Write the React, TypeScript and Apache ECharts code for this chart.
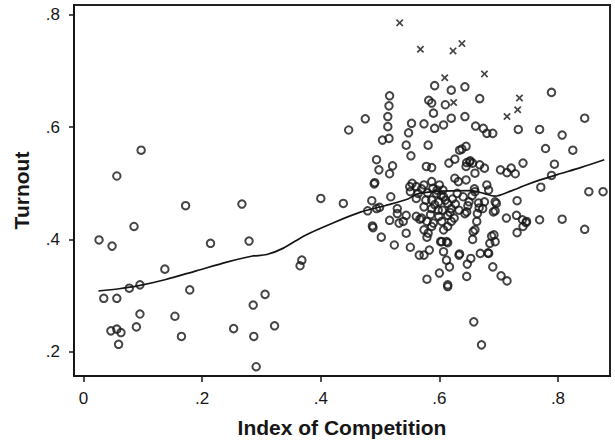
import React, { useEffect, useRef } from "react";
import * as echarts from "echarts";

const xTicks = [0, 0.2, 0.4, 0.6, 0.8];
const yTicks = [0.2, 0.4, 0.6, 0.8];

// Districts: [index of competition, turnout]
const districts: number[][] = [
  [0.026, 0.399], [0.034, 0.295], [0.048, 0.388], [0.056, 0.513], [0.056, 0.295], [0.046, 0.237],
  [0.056, 0.24], [0.063, 0.234], [0.059, 0.213], [0.077, 0.313], [0.085, 0.423], [0.089, 0.244],
  [0.095, 0.319], [0.095, 0.267], [0.097, 0.559], [0.137, 0.347], [0.154, 0.263], [0.165, 0.227],
  [0.172, 0.46], [0.179, 0.31], [0.214, 0.393], [0.253, 0.241], [0.267, 0.463], [0.279, 0.397],
  [0.286, 0.283], [0.287, 0.227], [0.291, 0.173], [0.306, 0.302], [0.322, 0.246], [0.365, 0.353],
  [0.368, 0.363], [0.4, 0.473], [0.438, 0.464], [0.447, 0.595], [0.475, 0.615],
  [0.592, 0.674], [0.62, 0.666], [0.643, 0.672], [0.668, 0.651], [0.516, 0.656],
  [0.582, 0.648], [0.587, 0.643], [0.61, 0.64], [0.515, 0.638],
  [0.59, 0.625], [0.62, 0.616], [0.643, 0.619], [0.513, 0.619],
  [0.553, 0.607], [0.574, 0.606], [0.607, 0.604], [0.513, 0.601], [0.592, 0.598], [0.661, 0.602],
  [0.674, 0.598], [0.68, 0.589], [0.69, 0.589], [0.733, 0.596], [0.769, 0.596], [0.789, 0.662],
  [0.845, 0.616], [0.807, 0.586], [0.548, 0.59],
  [0.504, 0.577], [0.515, 0.58], [0.544, 0.568], [0.581, 0.568], [0.638, 0.561], [0.645, 0.566],
  [0.779, 0.562], [0.825, 0.559], [0.634, 0.559],
  [0.552, 0.549], [0.494, 0.542], [0.626, 0.543], [0.616, 0.536], [0.646, 0.537], [0.651, 0.538],
  [0.656, 0.536], [0.668, 0.533], [0.676, 0.527], [0.578, 0.53], [0.587, 0.528], [0.521, 0.531],
  [0.741, 0.536], [0.794, 0.534],
  [0.498, 0.524], [0.516, 0.517], [0.703, 0.524], [0.721, 0.527], [0.714, 0.519], [0.728, 0.517],
  [0.789, 0.514], [0.626, 0.509], [0.632, 0.503], [0.645, 0.506], [0.66, 0.518],
  [0.491, 0.501], [0.554, 0.5], [0.561, 0.494], [0.574, 0.497], [0.587, 0.503], [0.6, 0.497],
  [0.589, 0.491], [0.68, 0.497], [0.771, 0.493], [0.852, 0.485], [0.876, 0.485],
  [0.551, 0.485], [0.564, 0.482], [0.58, 0.483], [0.595, 0.482], [0.607, 0.476], [0.63, 0.482],
  [0.64, 0.476], [0.66, 0.485], [0.683, 0.488], [0.518, 0.476],
  [0.561, 0.473], [0.577, 0.47], [0.587, 0.47], [0.599, 0.467], [0.614, 0.464], [0.627, 0.463],
  [0.65, 0.467], [0.666, 0.465], [0.676, 0.467], [0.694, 0.467], [0.696, 0.464], [0.731, 0.469],
  [0.486, 0.469],
  [0.529, 0.455], [0.494, 0.455], [0.479, 0.451], [0.574, 0.458], [0.587, 0.455], [0.605, 0.452],
  [0.62, 0.455], [0.633, 0.452], [0.646, 0.449], [0.673, 0.455], [0.694, 0.451],
  [0.529, 0.446], [0.544, 0.443], [0.561, 0.441], [0.57, 0.438], [0.599, 0.441], [0.614, 0.443],
  [0.625, 0.438], [0.643, 0.446], [0.664, 0.446], [0.713, 0.438], [0.74, 0.435], [0.769, 0.435],
  [0.807, 0.436],
  [0.516, 0.434], [0.532, 0.429], [0.539, 0.432], [0.579, 0.432], [0.59, 0.429], [0.604, 0.432],
  [0.62, 0.432], [0.663, 0.432], [0.746, 0.43],
  [0.487, 0.424], [0.488, 0.421], [0.544, 0.411], [0.574, 0.417], [0.587, 0.423], [0.607, 0.417],
  [0.614, 0.423], [0.66, 0.417], [0.692, 0.408], [0.731, 0.412], [0.845, 0.418],
  [0.502, 0.404], [0.579, 0.404], [0.602, 0.396], [0.614, 0.394], [0.656, 0.4], [0.685, 0.393],
  [0.694, 0.396], [0.524, 0.39],
  [0.551, 0.386], [0.574, 0.372], [0.583, 0.381], [0.607, 0.378], [0.633, 0.372], [0.653, 0.366],
  [0.669, 0.375], [0.683, 0.375], [0.612, 0.363], [0.647, 0.356], [0.617, 0.351], [0.69, 0.351],
  [0.579, 0.329], [0.6, 0.34], [0.646, 0.334], [0.704, 0.335], [0.714, 0.326], [0.614, 0.319],
  [0.614, 0.316],
  [0.658, 0.253], [0.671, 0.212],
  [0.49, 0.499], [0.499, 0.457], [0.567, 0.436], [0.566, 0.372], [0.581, 0.411], [0.55, 0.494],
  [0.657, 0.414], [0.682, 0.376], [0.634, 0.374], [0.612, 0.396], [0.747, 0.432], [0.741, 0.423],
  [0.73, 0.443], [0.688, 0.406], [0.691, 0.449], [0.604, 0.396],
  [0.596, 0.488], [0.603, 0.478], [0.592, 0.462], [0.61, 0.47], [0.598, 0.452], [0.585, 0.444],
  [0.618, 0.448], [0.606, 0.488], [0.622, 0.472], [0.57, 0.49], [0.655, 0.478], [0.648, 0.46],
  [0.667, 0.456], [0.659, 0.49], [0.645, 0.53], [0.652, 0.54],
];

// Outlying districts drawn as crosses
const outliers: number[][] = [
  [0.533, 0.786], [0.568, 0.739], [0.623, 0.736], [0.638, 0.749], [0.609, 0.688],
  [0.676, 0.695], [0.624, 0.644], [0.735, 0.652], [0.732, 0.631], [0.714, 0.619],
];

// Lowess smooth
const lowessFit: number[][] = [
  [0.025, 0.308], [0.06, 0.312], [0.091, 0.317], [0.137, 0.328], [0.19, 0.344], [0.243, 0.36],
  [0.283, 0.37], [0.309, 0.373], [0.336, 0.384], [0.375, 0.408], [0.422, 0.43], [0.468, 0.449],
  [0.508, 0.46], [0.547, 0.472], [0.562, 0.481], [0.6, 0.486], [0.653, 0.487], [0.675, 0.482],
  [0.693, 0.477], [0.72, 0.486], [0.746, 0.497], [0.77, 0.506], [0.8, 0.516], [0.838, 0.528],
  [0.878, 0.542],
];

const INK = "#161616";
const FONT = "Liberation Sans";

export default function App() {
  const ref = useRef<HTMLDivElement>(null);
  useEffect(() => {
    const chart = echarts.init(ref.current!, null, { renderer: "svg" });
    const fmt = (v: number) => (Math.abs(v) < 1e-9 ? "0" : "." + Math.round(v * 10));
    chart.setOption({
      animation: false,
      backgroundColor: "#ffffff",
      grid: {
        left: 74, right: 5, top: 5, bottom: 67,
        show: true, borderColor: "#222", borderWidth: 2, backgroundColor: "transparent",
      },
      xAxis: {
        type: "value", min: -0.0162, max: 0.8877,
        name: "Index of Competition", nameLocation: "middle", nameGap: 41,
        nameTextStyle: { fontFamily: FONT, fontWeight: "bold", fontSize: 21, color: INK },
        axisLine: { show: true, onZero: false, lineStyle: { color: INK, width: 2 } },
        axisTick: { show: true, length: 6, customValues: xTicks, lineStyle: { color: INK, width: 1.5 } },
        axisLabel: { customValues: xTicks, formatter: fmt, margin: 14, fontSize: 17, fontFamily: FONT, color: INK },
        splitLine: { show: false },
      },
      yAxis: {
        type: "value", min: 0.1565, max: 0.8178,
        name: "Turnout", nameLocation: "middle", nameGap: 42,
        nameTextStyle: { fontFamily: FONT, fontWeight: "bold", fontSize: 21, color: INK },
        axisLine: { show: true, onZero: false, lineStyle: { color: INK, width: 2 } },
        axisTick: { show: true, length: 5, customValues: yTicks, lineStyle: { color: INK, width: 1.5 } },
        axisLabel: { customValues: yTicks, formatter: fmt, margin: 14, fontSize: 17, fontFamily: FONT, color: INK },
        splitLine: { show: false },
      },
      series: [
        {
          type: "scatter",
          data: districts,
          symbol: "circle",
          symbolSize: 7.5,
          itemStyle: { color: "rgba(0,0,0,0)", borderColor: INK, borderWidth: 2 },
        },
        {
          type: "scatter",
          data: outliers,
          symbol: "path://M0,1.6 L1.6,0 L5,3.4 L8.4,0 L10,1.6 L6.6,5 L10,8.4 L8.4,10 L5,6.6 L1.6,10 L0,8.4 L3.4,5 Z",
          symbolSize: 7.5,
          itemStyle: { color: INK },
        },
        {
          type: "line",
          data: lowessFit,
          showSymbol: false,
          symbol: "none",
          smooth: 0.3,
          lineStyle: { color: INK, width: 1.7 },
        },
      ],
    });
    return () => chart.dispose();
  }, []);
  return (
    <div
      ref={ref}
      style={{ position: "fixed", left: 0, top: 0, width: 615, height: 443, background: "#fff" }}
    />
  );
}
